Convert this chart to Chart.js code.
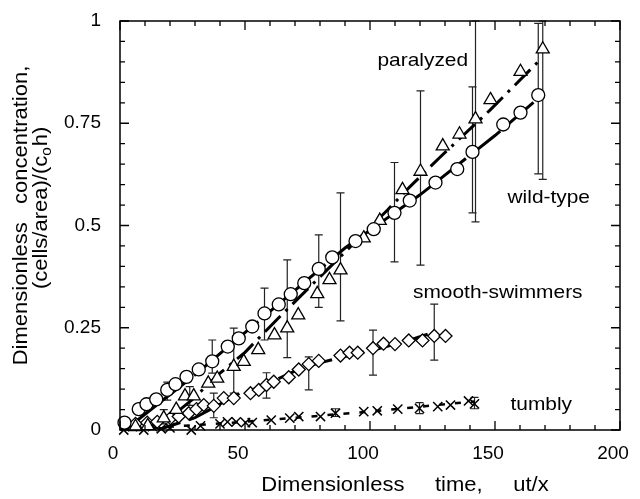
<!DOCTYPE html>
<html>
<head>
<meta charset="utf-8">
<script src="https://cdn.jsdelivr.net/npm/chart.js@4/dist/chart.umd.min.js"></script>
<style>
  html, body { margin: 0; padding: 0; background: #fff; }
  #wrap { width: 640px; height: 499px; position: relative; }
</style>
</head>
<body>
<div id="wrap"><canvas id="plot"></canvas></div>
<script>
// Series values (x = dimensionless time, y = dimensionless concentration)
const wildX = [1.8, 7.5, 10.6, 14.5, 18.9, 22.2, 26.6, 31.5, 36.9, 43.1, 47.5, 52.9, 57.8, 63.5, 68.3, 73.7, 79.5, 84.9, 94.2, 101.5, 109.8, 115.9, 126.2, 134.9, 141, 153.3, 160.2, 167.3];
const wildY = [0.018, 0.051, 0.063, 0.075, 0.098, 0.112, 0.130, 0.148, 0.168, 0.204, 0.224, 0.253, 0.285, 0.307, 0.332, 0.359, 0.394, 0.422, 0.462, 0.491, 0.531, 0.561, 0.605, 0.638, 0.680, 0.747, 0.776, 0.819];

const paraX = [6.2, 11.1, 17.5, 22.5, 26, 29.5, 35.3, 38.9, 45.5, 49.5, 55.3, 61.8, 66.9, 71.3, 78.9, 83.8, 88.2, 97.5, 103.9, 113, 120.2, 129.1, 135.8, 142.2, 148.2, 160.2, 169.1];
const paraY = [0.008, 0.010, 0.029, 0.050, 0.083, 0.083, 0.114, 0.126, 0.155, 0.167, 0.196, 0.232, 0.249, 0.281, 0.333, 0.367, 0.391, 0.469, 0.512, 0.587, 0.632, 0.694, 0.723, 0.760, 0.807, 0.876, 0.931];

const smoothX = [6.2, 10.9, 14.9, 20.2, 23.5, 27.5, 30.6, 33.5, 37.5, 41.5, 45.5, 52.2, 55.5, 58.6, 61.5, 67.5, 71.5, 75.5, 79.5, 88.2, 91.8, 95.1, 101.2, 105.4, 110, 115.5, 121, 125.7, 130.2];
const smoothY = [0.015, 0.018, 0.020, 0.029, 0.033, 0.041, 0.051, 0.061, 0.059, 0.078, 0.078, 0.090, 0.098, 0.110, 0.118, 0.129, 0.148, 0.161, 0.169, 0.182, 0.189, 0.189, 0.200, 0.211, 0.210, 0.219, 0.219, 0.230, 0.230];

const tumblyX = [1.5, 5, 9.5, 13, 16.5, 20, 28.5, 32.2, 40, 43, 46.5, 50.2, 52.9, 60.5, 67.9, 71.5, 80.2, 86.2, 97.5, 102.9, 111.1, 119.8, 127.1, 132.2, 139.4, 141.8];
const tumblyY = [0.0, 0.008, 0.0, 0.008, 0.003, 0.005, 0.0, 0.010, 0.015, 0.020, 0.020, 0.018, 0.018, 0.024, 0.029, 0.033, 0.033, 0.041, 0.045, 0.047, 0.051, 0.053, 0.057, 0.061, 0.071, 0.064];

// Fitted curves
const wildFitX = [2, 30, 60, 90, 120, 150, 168];
const wildFitY = [0, 0.135, 0.29, 0.445, 0.575, 0.72, 0.815];
const paraFitX = [10, 22, 29, 40, 50, 62.6, 72, 90, 107, 116, 128, 148, 168];
const paraFitY = [0, 0.04, 0.075, 0.139, 0.19, 0.269, 0.326, 0.435, 0.538, 0.595, 0.667, 0.782, 0.905];
const smoothFitX = [15, 30, 48, 55, 71, 79, 89.5, 104, 116, 126];
const smoothFitY = [0, 0.03, 0.09, 0.102, 0.147, 0.163, 0.179, 0.2, 0.22, 0.24];
const tumblyFitX = [0, 50, 100, 142];
const tumblyFitY = [0, 0.02, 0.045, 0.07];

// Error bars (x, low, high)
const wildErrX = [18.9, 36.9, 57.8, 79.5, 109.8, 141, 167.3];
const wildErrLo = [0.073, 0.139, 0.22, 0.30, 0.411, 0.531, 0.626];
const wildErrHi = [0.117, 0.22, 0.347, 0.477, 0.654, 0.839, 0.994];
const paraErrX = [17.5, 27.9, 45.5, 66.9, 88.2, 120.2, 142.2, 169.1];
const paraErrLo = [0.015, 0.06, 0.09, 0.177, 0.267, 0.403, 0.509, 0.613];
const paraErrHi = [0.05, 0.106, 0.249, 0.416, 0.58, 0.829, 1.0, 1.0];
const smoothErrX = [37.5, 58.6, 75.5, 101.2, 125.7];
const smoothErrLo = [0.03, 0.078, 0.098, 0.134, 0.171];
const smoothErrHi = [0.09, 0.14, 0.179, 0.244, 0.308];
const tumblyErrX = [86.2, 119.8, 141.8];
const tumblyErrLo = [0.033, 0.04, 0.052];
const tumblyErrHi = [0.052, 0.067, 0.08];

// Axis ticks
const xTicks = [0, 50, 100, 150, 200];
const yTicks = [0, 0.25, 0.5, 0.75, 1];

const seriesNames = ['paralyzed', 'wild-type', 'smooth-swimmers', 'tumbly'];

const FONT = '"Liberation Sans", Arial, Helvetica, sans-serif';
const WIDEN = 1.1; // the lettering in the figure is a bit wider than Arial

function pts(xs, ys) {
  return xs.map((x, i) => ({ x: x, y: ys[i] }));
}

// Where the series names sit, in data units
const nameAnchors = [[103, 0.89], [155, 0.555], [117.2, 0.323], [156.2, 0.05]];

const errorSets = [
  [wildErrX, wildErrLo, wildErrHi],
  [paraErrX, paraErrLo, paraErrHi],
  [smoothErrX, smoothErrLo, smoothErrHi],
  [tumblyErrX, tumblyErrLo, tumblyErrHi]
];

// Error bars, drawn beneath the markers
const errorBarPlugin = {
  id: 'errorBars',
  beforeDatasetsDraw(chart) {
    const ctx = chart.ctx;
    const xs = chart.scales.x, ys = chart.scales.y;
    const top = chart.chartArea.top - 3;
    ctx.save();
    ctx.strokeStyle = '#222';
    ctx.lineWidth = 1.2;
    errorSets.forEach(([ex, lo, hi]) => {
      ex.forEach((x, i) => {
        const px = xs.getPixelForValue(x);
        const p1 = Math.max(ys.getPixelForValue(hi[i]), top);
        const p2 = ys.getPixelForValue(lo[i]);
        ctx.beginPath();
        ctx.moveTo(px, p1); ctx.lineTo(px, p2);
        ctx.moveTo(px - 4, p1); ctx.lineTo(px + 4, p1);
        ctx.moveTo(px - 4, p2); ctx.lineTo(px + 4, p2);
        ctx.stroke();
      });
    });
    ctx.restore();
  }
};

// draw text stretched a little horizontally (in the current frame)
function wideText(ctx, text, x, y, align) {
  ctx.save();
  ctx.translate(x, y);
  ctx.scale(WIDEN, 1);
  ctx.textAlign = align;
  ctx.fillText(text, 0, 0);
  ctx.restore();
}

// Box, inward ticks on all four sides, titles and series names
const framePlugin = {
  id: 'frame',
  afterDraw(chart) {
    const ctx = chart.ctx;
    const a = chart.chartArea;
    const xs = chart.scales.x, ys = chart.scales.y;
    ctx.save();
    ctx.strokeStyle = '#000';
    ctx.lineWidth = 1.5;
    ctx.strokeRect(a.left, a.top, a.right - a.left, a.bottom - a.top);

    ctx.lineWidth = 1.3;
    ctx.beginPath();
    for (let v = 0; v <= 200; v += 10) {
      const px = xs.getPixelForValue(v);
      const len = v % 50 === 0 ? 9 : 5;
      ctx.moveTo(px, a.bottom); ctx.lineTo(px, a.bottom - len);
      ctx.moveTo(px, a.top); ctx.lineTo(px, a.top + len);
    }
    for (let k = 0; k <= 20; k++) {
      const py = ys.getPixelForValue(k * 0.05);
      const len = k % 5 === 0 ? 9 : 5;
      ctx.moveTo(a.left, py); ctx.lineTo(a.left + len, py);
      ctx.moveTo(a.right, py); ctx.lineTo(a.right - len, py);
    }
    ctx.stroke();

    ctx.fillStyle = '#000';
    ctx.textBaseline = 'alphabetic';
    ctx.font = '19px ' + FONT;
    seriesNames.forEach((name, i) => {
      wideText(ctx, name, xs.getPixelForValue(nameAnchors[i][0]), ys.getPixelForValue(nameAnchors[i][1]), 'left');
    });

    // x axis title
    ctx.font = '20px ' + FONT;
    wideText(ctx, 'Dimensionless     time,     ut/x', xs.getPixelForValue(114), 491, 'center');

    // y axis title, two rotated lines, subscript o
    const cy = (a.top + a.bottom) / 2 - 10;
    ctx.translate(0, cy);
    ctx.rotate(-Math.PI / 2);
    ctx.scale(WIDEN, 1);
    ctx.textBaseline = 'middle';
    ctx.textAlign = 'left';
    ctx.font = '20px ' + FONT;
    const l1 = 'Dimensionless   concentration,';
    const wl1 = ctx.measureText(l1).width;
    ctx.fillText(l1, -wl1 / 2, 21);
    const p1 = '(cells/area)/(c', p2 = 'o', p3 = 'h)';
    const w1 = ctx.measureText(p1).width, w3 = ctx.measureText(p3).width;
    ctx.font = '14px ' + FONT;
    const w2 = ctx.measureText(p2).width + 1;
    const sx = 7 - (w1 + w2 + w3) / 2;
    ctx.font = '20px ' + FONT;
    ctx.fillText(p1, sx, 41);
    ctx.font = '14px ' + FONT;
    ctx.fillText(p2, sx + w1, 47);
    ctx.font = '20px ' + FONT;
    ctx.fillText(p3, sx + w1 + w2, 41);
    ctx.restore();
  }
};

const markerBase = {
  showLine: false,
  backgroundColor: '#fff',
  borderColor: '#000',
  pointBorderWidth: 1.3,
  clip: false,
  order: 1
};

const fitBase = {
  showLine: true,
  pointRadius: 0,
  borderColor: '#000',
  borderWidth: 3,
  fill: false,
  tension: 0,
  order: 2
};

const chart = new Chart(document.getElementById('plot').getContext('2d'), {
  type: 'scatter',
  data: {
    datasets: [
      Object.assign({}, fitBase, { label: 'wild-type fit', data: pts(wildFitX, wildFitY), borderDash: [40, 4] }),
      Object.assign({}, fitBase, { label: 'paralyzed fit', data: pts(paraFitX, paraFitY), borderDash: [22, 7, 3, 7] }),
      Object.assign({}, fitBase, { label: 'smooth fit', data: pts(smoothFitX, smoothFitY), borderDash: [24, 9] }),
      Object.assign({}, fitBase, { label: 'tumbly fit', data: pts(tumblyFitX, tumblyFitY), borderWidth: 2.5, borderDash: [6, 10] }),
      Object.assign({}, markerBase, { label: 'wild-type', data: pts(wildX, wildY), pointStyle: 'circle', pointRadius: 6.5 }),
      Object.assign({}, markerBase, { label: 'paralyzed', data: pts(paraX, paraY), pointStyle: 'triangle', pointRadius: 7.5 }),
      Object.assign({}, markerBase, { label: 'smooth-swimmers', data: pts(smoothX, smoothY), pointStyle: 'rectRot', pointRadius: 6.5 }),
      Object.assign({}, markerBase, { label: 'tumbly', data: pts(tumblyX, tumblyY), pointStyle: 'crossRot', pointRadius: 6.5, pointBorderWidth: 1.5 })
    ]
  },
  options: {
    responsive: true,
    maintainAspectRatio: false,
    animation: false,
    devicePixelRatio: 1,
    layout: { padding: { top: 21, right: 20, left: 0, bottom: 0 } },
    plugins: {
      legend: { display: false },
      tooltip: { enabled: false }
    },
    scales: {
      x: {
        type: 'linear',
        min: 0,
        max: 200,
        afterBuildTicks: (s) => { s.ticks = xTicks.map(v => ({ value: v })); },
        afterFit: (s) => { s.height = 69; s.paddingLeft = 0; s.paddingRight = 0; },
        grid: { display: false, drawTicks: false },
        border: { display: false },
        ticks: { color: '#000', font: { family: FONT, size: 19 }, padding: 12, maxRotation: 0, labelOffset: -7, callback: (v) => String(v) }
      },
      y: {
        type: 'linear',
        min: 0,
        max: 1,
        afterBuildTicks: (s) => { s.ticks = yTicks.map(v => ({ value: v })); },
        afterFit: (s) => { s.width = 120; s.paddingTop = 0; s.paddingBottom = 0; },
        grid: { display: false, drawTicks: false },
        border: { display: false },
        ticks: { color: '#000', font: { family: FONT, size: 19 }, padding: 19, callback: (v) => String(v) }
      }
    }
  },
  plugins: [errorBarPlugin, framePlugin]
});
</script>
</body>
</html>
